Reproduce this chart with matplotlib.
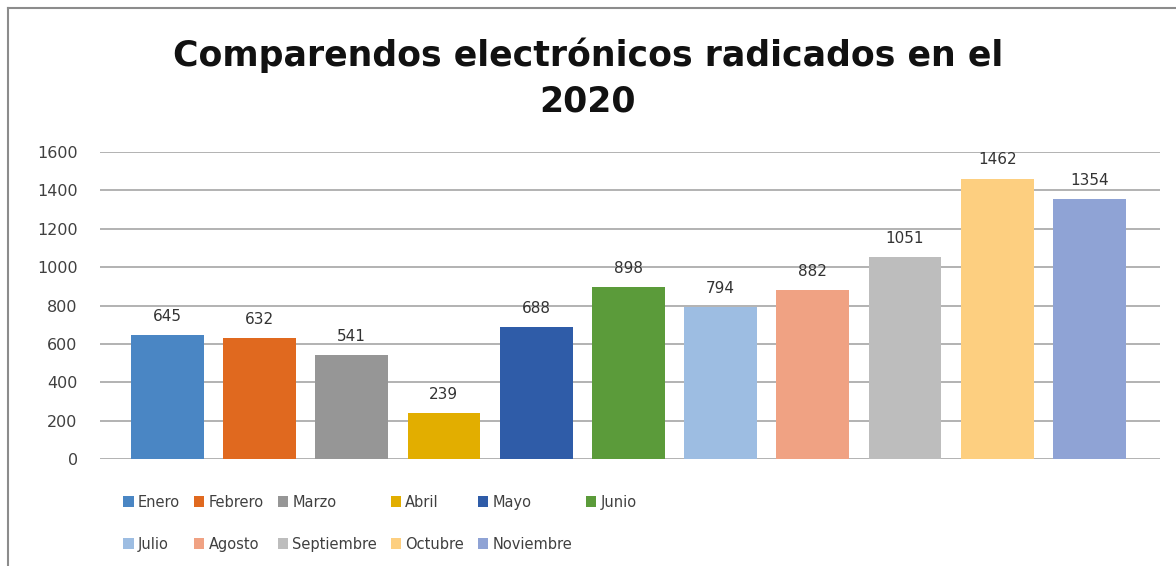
import matplotlib.pyplot as plt
from matplotlib.lines import Line2D
from matplotlib.patches import Patch

meses = ['Enero', 'Febrero', 'Marzo', 'Abril', 'Mayo', 'Junio',
         'Julio', 'Agosto', 'Septiembre', 'Octubre', 'Noviembre']
valores = [645, 632, 541, 239, 688, 898, 794, 882, 1051, 1462, 1354]
colores = ['#4a86c4', '#e0691f', '#969696', '#e2ae00', '#2f5ca8', '#5b9b3a',
           '#9dbde2', '#f0a283', '#bdbdbd', '#fdcf80', '#8fa3d5']

fig = plt.figure(figsize=(11.76, 5.66), dpi=100)
ax = fig.add_axes([0.085, 0.189, 0.901, 0.5424])

x = list(range(len(meses)))
ax.bar(x, valores, width=0.79, color=colores, zorder=3)

for xi, val in zip(x, valores):
    ax.annotate(f"{val}", (xi, val), xytext=(0, 8), textcoords='offset points',
                ha='center', va='bottom', fontsize=11, color='#333333', zorder=4)

ax.set_ylim(0, 1600)
ax.set_xlim(-0.73, 10.76)
ax.set_yticks(range(0, 1601, 200))
ax.set_xticks([])
ax.yaxis.grid(True, color='#a6a6a6', linewidth=1.2, zorder=0)
ax.tick_params(axis='y', length=0, pad=16, labelsize=11.5, labelcolor='#404040')
for s in ax.spines.values():
    s.set_visible(False)

fig.text(0.5, 0.862, 'Comparendos electrónicos radicados en el\n2020',
         ha='center', va='center', fontsize=25, fontweight='bold',
         family='DejaVu Sans', linespacing=1.4, color='#111111')

# leyenda en filas de 6 (matplotlib llena por columnas)
handles = [Patch(facecolor=c, label=m) for m, c in zip(meses, colores)]
orden = []
for i in range(6):
    orden.append(i)
    if i + 6 < len(meses):
        orden.append(i + 6)
handles = [handles[i] for i in orden]
fig.legend(handles=handles, loc='upper left', bbox_to_anchor=(0.105, 0.126),
           ncol=6, frameon=False, fontsize=10.5, handlelength=0.7, handleheight=0.7,
           handletextpad=0.3, columnspacing=0.95, labelspacing=1.85,
           labelcolor='#404040', borderpad=0, borderaxespad=0)

# marco del gráfico
fig.add_artist(Line2D([8 / 1176, 8 / 1176], [0, 1 - 8 / 566], color='#8c8c8c',
                      linewidth=1.5, transform=fig.transFigure))
fig.add_artist(Line2D([8 / 1176, 1], [1 - 8 / 566, 1 - 8 / 566], color='#8c8c8c',
                      linewidth=1.5, transform=fig.transFigure))

plt.savefig('out.png', dpi=100)
